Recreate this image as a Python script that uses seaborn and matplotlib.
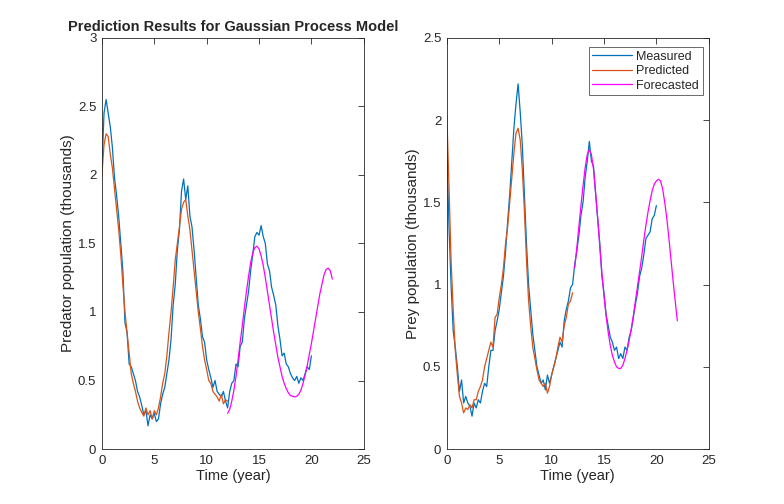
import numpy as np
import pandas as pd
import matplotlib
matplotlib.use("Agg")
import matplotlib.pyplot as plt
import seaborn as sns

# sampling grid (years)
dt = 0.2
fit_start, fc_start_pred, fc_start_prey = 0.0, 12.0, 12.2

# predator population (thousands), measured t = 0..20
predator_measured = [2.05, 2.45, 2.55, 2.45, 2.35, 2.2, 1.98, 1.85, 1.7, 1.5,
                     1.3, 0.92, 0.85, 0.62, 0.6, 0.55, 0.5, 0.42, 0.38, 0.32,
                     0.25, 0.28, 0.17, 0.25, 0.22, 0.26, 0.2, 0.22, 0.33, 0.4,
                     0.45, 0.55, 0.65, 0.8, 1.05, 1.2, 1.45, 1.6, 1.88, 1.97,
                     1.82, 1.92, 1.7, 1.62, 1.45, 1.25, 1.05, 0.95, 0.82, 0.78,
                     0.65, 0.58, 0.52, 0.45, 0.5, 0.42, 0.4, 0.38, 0.42, 0.35,
                     0.3, 0.42, 0.48, 0.5, 0.62, 0.6, 0.75, 0.78, 0.95, 1.05,
                     1.15, 1.3, 1.42, 1.55, 1.58, 1.56, 1.63, 1.55, 1.5, 1.35,
                     1.3, 1.18, 1.12, 1.05, 0.9, 0.8, 0.68, 0.7, 0.62, 0.6,
                     0.55, 0.52, 0.5, 0.53, 0.48, 0.52, 0.5, 0.55, 0.6, 0.58,
                     0.68]
# predicted t = 0..12
predator_predicted = [2.0, 2.22, 2.3, 2.28, 2.15, 2.05, 1.9, 1.75, 1.6, 1.42,
                      1.2, 1.0, 0.85, 0.7, 0.55, 0.48, 0.42, 0.35, 0.3, 0.27,
                      0.24, 0.3, 0.25, 0.28, 0.22, 0.28, 0.25, 0.3, 0.38, 0.48,
                      0.55, 0.68, 0.85, 1.0, 1.18, 1.38, 1.5, 1.62, 1.75, 1.8,
                      1.82, 1.7, 1.6, 1.45, 1.3, 1.15, 1.0, 0.88, 0.75, 0.65,
                      0.58, 0.5, 0.48, 0.42, 0.4, 0.38, 0.35, 0.4, 0.33, 0.36,
                      0.35]
# forecast t = 12..22
predator_forecast = [0.26, 0.29, 0.35, 0.43, 0.53, 0.65, 0.78, 0.9, 1.03, 1.15,
                     1.26, 1.36, 1.43, 1.47, 1.48, 1.46, 1.41, 1.34, 1.25, 1.15,
                     1.05, 0.95, 0.85, 0.76, 0.67, 0.6, 0.53, 0.48, 0.44, 0.41,
                     0.39, 0.385, 0.38, 0.385, 0.4, 0.43, 0.48, 0.54, 0.61, 0.69,
                     0.77, 0.86, 0.95, 1.04, 1.13, 1.2, 1.27, 1.31, 1.32, 1.3,
                     1.24]

# prey population (thousands)
prey_measured = [1.85, 1.35, 1.0, 0.72, 0.62, 0.5, 0.35, 0.42, 0.28, 0.32,
                 0.28, 0.26, 0.2, 0.28, 0.25, 0.3, 0.28, 0.35, 0.4, 0.38,
                 0.5, 0.6, 0.6, 0.72, 0.78, 0.85, 0.95, 1.05, 1.2, 1.38,
                 1.55, 1.75, 1.95, 2.1, 2.22, 2.05, 1.85, 1.55, 1.25, 1.0,
                 0.85, 0.7, 0.6, 0.5, 0.45, 0.4, 0.42, 0.36, 0.45, 0.4,
                 0.45, 0.5, 0.55, 0.6, 0.65, 0.62, 0.78, 0.85, 0.9, 0.98,
                 1.0, 1.12, 1.2, 1.3, 1.42, 1.5, 1.65, 1.75, 1.87, 1.75,
                 1.72, 1.55, 1.4, 1.25, 1.05, 0.95, 0.82, 0.75, 0.68, 0.65,
                 0.6, 0.62, 0.55, 0.58, 0.55, 0.62, 0.6, 0.68, 0.72, 0.8,
                 0.88, 0.95, 1.05, 1.1, 1.18, 1.28, 1.3, 1.32, 1.4, 1.42,
                 1.48]
prey_predicted = [2.03, 1.6, 1.15, 0.85, 0.6, 0.45, 0.32, 0.28, 0.22, 0.25,
                  0.24, 0.27, 0.25, 0.3, 0.3, 0.35, 0.38, 0.42, 0.5, 0.55,
                  0.6, 0.65, 0.62, 0.8, 0.82, 0.92, 1.0, 1.1, 1.25, 1.35,
                  1.5, 1.65, 1.8, 1.92, 1.95, 1.88, 1.7, 1.45, 1.15, 0.9,
                  0.75, 0.62, 0.55, 0.48, 0.42, 0.4, 0.38, 0.4, 0.34, 0.38,
                  0.45, 0.5, 0.55, 0.62, 0.68, 0.65, 0.75, 0.8, 0.88, 0.9,
                  0.95]
prey_forecast = [1.1, 1.22, 1.35, 1.48, 1.6, 1.71, 1.79, 1.82, 1.79, 1.7,
                 1.56, 1.4, 1.23, 1.07, 0.93, 0.81, 0.71, 0.63, 0.57, 0.53,
                 0.5, 0.49, 0.49, 0.51, 0.55, 0.6, 0.66, 0.73, 0.81, 0.9,
                 0.99, 1.08, 1.17, 1.27, 1.36, 1.44, 1.51, 1.57, 1.61, 1.63,
                 1.64, 1.63, 1.58, 1.5, 1.4, 1.28, 1.15, 1.02, 0.9, 0.78]

series_names = ["Measured", "Predicted", "Forecasted"]
colors = {"Measured": "#0072BD", "Predicted": "#D95319", "Forecasted": "#FF00FF"}


def frame(values, start, name):
    t = start + dt * np.arange(len(values))
    return pd.DataFrame({"t": t, "v": values, "series": name})


df_pred = pd.concat([frame(predator_measured, fit_start, "Measured"),
                     frame(predator_predicted, fit_start, "Predicted"),
                     frame(predator_forecast, fc_start_pred, "Forecasted")])
df_prey = pd.concat([frame(prey_measured, fit_start, "Measured"),
                     frame(prey_predicted, fit_start, "Predicted"),
                     frame(prey_forecast, fc_start_prey, "Forecasted")])

sns.set_style("white")
plt.rcParams["font.family"] = ["Liberation Sans", "DejaVu Sans"]
plt.rcParams["xtick.direction"] = "in"
plt.rcParams["ytick.direction"] = "in"

fig = plt.figure(figsize=(7.84, 5.04), dpi=100)
ax1 = fig.add_axes([0.130, 0.109, 0.334, 0.816])
ax2 = fig.add_axes([0.570, 0.109, 0.334, 0.816])

for ax, df, ymax, ylab, show in [(ax1, df_pred, 3, "Predator population (thousands)", False),
                                 (ax2, df_prey, 2.5, "Prey population (thousands)", True)]:
    sns.lineplot(data=df, x="t", y="v", hue="series", hue_order=series_names,
                 palette=colors, estimator=None, sort=False, linewidth=0.9,
                 legend=show, ax=ax)
    ax.set_xlim(0, 25)
    ax.set_ylim(0, ymax)
    ax.set_xticks([0, 5, 10, 15, 20, 25])
    ax.set_yticks(np.arange(0, ymax + 0.01, 0.5))
    ax.set_yticklabels(["0", "0.5", "1", "1.5", "2", "2.5", "3"][:len(ax.get_yticks())])
    ax.set_xlabel("Time (year)", fontsize=10.5, color="#262626", labelpad=2)
    ax.set_ylabel(ylab, fontsize=11, color="#262626", labelpad=2)
    ax.tick_params(labelsize=9.5, colors="#262626", length=4, width=0.6,
                   top=True, right=True, pad=4)
    for s in ax.spines.values():
        s.set_linewidth(0.6)
        s.set_color("#262626")

ax1.set_title("Prediction Results for Gaussian Process Model", fontsize=10.5,
              fontweight="bold", pad=5)

leg = ax2.legend(loc="upper right", bbox_to_anchor=(0.977, 0.978), fontsize=9,
                 frameon=True, fancybox=False, edgecolor="#262626",
                 handlelength=3.2, borderpad=0.3, labelspacing=0.2,
                 handletextpad=0.3, borderaxespad=0)
leg.get_frame().set_linewidth(0.6)
leg.set_title(None)

fig.savefig("out.png", dpi=100)
